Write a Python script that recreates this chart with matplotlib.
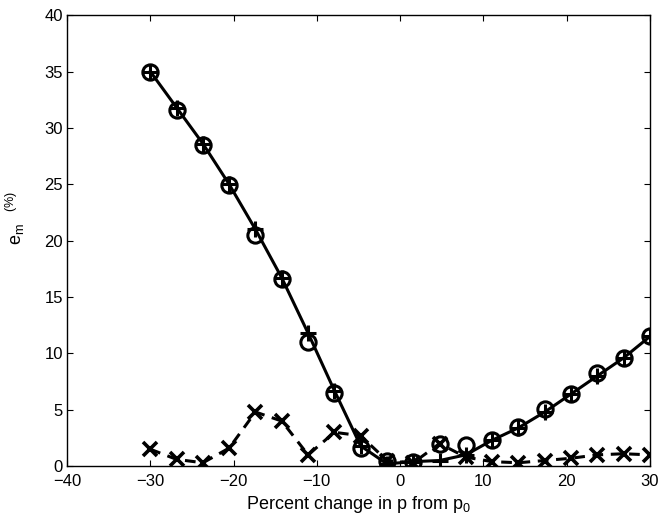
import matplotlib
matplotlib.use("Agg")
import matplotlib.pyplot as plt

plt.rcParams['font.family'] = ['Liberation Sans', 'DejaVu Sans']
plt.rcParams['font.size'] = 12

x_vals = [-30.0, -26.84, -23.68, -20.53, -17.37, -14.21, -11.05, -7.89, -4.74, -1.58,
          1.58, 4.74, 7.89, 11.05, 14.21, 17.37, 20.53, 23.68, 26.84, 30.0]
plus_vals = [35.0, 31.8, 28.6, 25.0, 21.0, 16.7, 11.8, 6.7, 1.8, 0.2,
             0.4, 0.5, 1.0, 2.3, 3.4, 4.8, 6.4, 8.0, 9.6, 11.5]
circle_vals = [35.0, 31.6, 28.5, 24.9, 20.5, 16.6, 11.0, 6.5, 1.6, 0.5,
               0.4, 2.0, 1.9, 2.3, 3.5, 5.1, 6.4, 8.3, 9.6, 11.5]
cross_vals = [1.5, 0.6, 0.3, 1.6, 4.8, 4.0, 1.0, 3.0, 2.7, 0.5,
              0.3, 2.0, 0.8, 0.4, 0.3, 0.5, 0.7, 1.0, 1.1, 1.0]

xticks = [-40, -30, -20, -10, 0, 10, 20, 30]
yticks = [0, 5, 10, 15, 20, 25, 30, 35, 40]

fig = plt.figure(figsize=(6.7, 5.22), dpi=100)
ax = fig.add_axes([0.1, 0.107, 0.87, 0.864])

ax.plot(x_vals, plus_vals, '-', color='black', lw=2.2, marker='+', ms=12, mew=2.2)
ax.plot(x_vals, circle_vals, 'o', color='black', ms=11, mew=2.2, mfc='none')
ax.plot(x_vals, cross_vals, '--', color='black', lw=2.2, marker='x', ms=10, mew=2.6,
        dashes=(3.5, 2.5))

ax.set_xlim(-40, 30)
ax.set_ylim(0, 40)
ax.set_xticks(xticks)
ax.set_yticks(yticks)
ax.set_xticklabels([str(t).replace('-', '\u2212') for t in xticks])
ax.tick_params(direction='in', top=True, right=True, length=4, width=0.8,
               labelsize=12)
ax.tick_params(axis='x', pad=6)
ax.tick_params(axis='y', pad=3)
for s in ax.spines.values():
    s.set_linewidth(1.0)

ax.set_xlabel(r'Percent change in p from p$\mathregular{_0}$', fontsize=13, labelpad=3)
ax.set_ylabel(r'$\mathregular{e_m\ \ ^{(\%)}}$', fontsize=13)
ax.yaxis.set_label_coords(-0.068, 0.55)

fig.savefig('out.png', dpi=100)
